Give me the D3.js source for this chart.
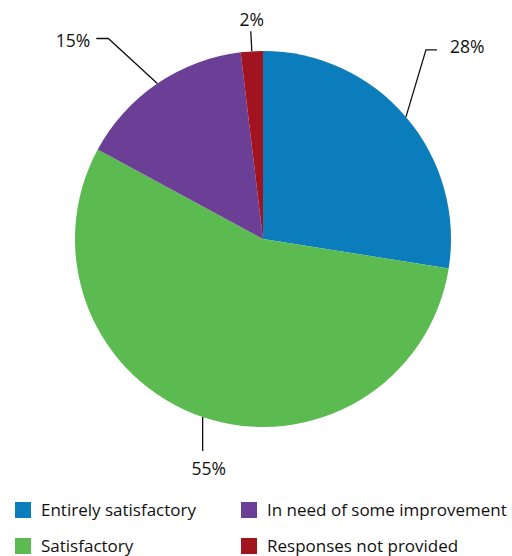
<!DOCTYPE html>
<html><head><meta charset="utf-8">
<script src="https://cdn.jsdelivr.net/npm/d3@7/dist/d3.min.js"></script>
<style>body{margin:0;background:#fff;} svg{display:block;font-family:"Open Sans","Noto Sans",sans-serif;}</style>
</head><body>
<svg id="c" width="512" height="556"></svg>
<script>
const categories = ["Entirely satisfactory","Satisfactory","In need of some improvement","Responses not provided"];
const values = [27.5, 55.4, 15.2, 1.9];
const labels = ["28%","55%","15%","2%"];
const colors = ["#0c7dbc","#5cbb50","#6c3f97","#a0131f"];

const svg = d3.select("#c");
const cx = 263, cy = 239, R = 188;
const g = svg.append("g").attr("transform", `translate(${cx},${cy})`);
const data = categories.map((c,i)=>({c, v: values[i], l: labels[i], col: colors[i]}));
const pie = d3.pie().value(d=>d.v).sort(null);
const arcs = pie(data);
const arc = d3.arc().innerRadius(0).outerRadius(R);
g.selectAll("path.s").data(arcs).join("path").attr("class","s")
  .attr("d", arc).attr("fill", d=>d.data.col);

const leader = [
  {pts:[[0,0],[20,-67],[31,-67]], tx:[44,-70], anchor:"start"},
  {pts:[[0,0],[0,34]], tx:[6,52], anchor:"middle"},
  {pts:[[0,0],[-49,-45],[-61,-45]], tx:[-67,-43], anchor:"end"},
  {pts:[[0,0],[-1,-20]], tx:[0,-31], anchor:"middle"}
];
arcs.forEach((a,i)=>{
  const ang = (a.startAngle + a.endAngle)/2;
  const px = R*Math.sin(ang), py = -R*Math.cos(ang);
  const L = leader[i];
  g.append("path").attr("d", d3.line()(L.pts.map(p=>[px+p[0], py+p[1]])))
    .attr("fill","none").attr("stroke","#111").attr("stroke-width",1.3);
  g.append("text").attr("x", px+L.tx[0]).attr("y", py+L.tx[1]).attr("dy","0.35em")
    .attr("text-anchor", L.anchor).attr("font-size",17.5).attr("fill","#111").text(a.data.l);
});

const legPos = [[15,502],[15,538],[241,502],[241,538]];
data.forEach((d,i)=>{
  const [x,y] = legPos[i];
  svg.append("rect").attr("x",x).attr("y",y).attr("width",16).attr("height",16).attr("fill",d.col);
  svg.append("text").attr("x",x+26).attr("y",y+8).attr("dy","0.35em").attr("font-size",17)
    .attr("fill","#111").text(d.c);
});
</script>
</body></html>
